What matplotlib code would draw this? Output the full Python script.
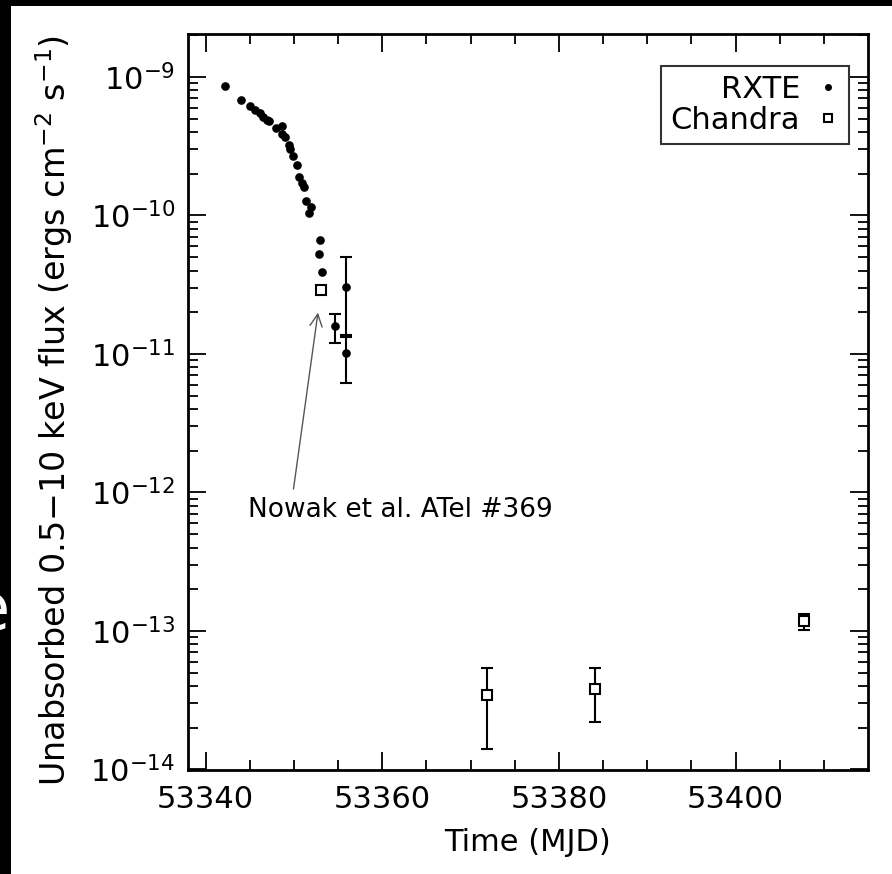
import numpy as np
import matplotlib
matplotlib.use("Agg")
from matplotlib import pyplot as plt
from matplotlib.patches import Rectangle
from matplotlib.lines import Line2D

plt.rcParams['font.family'] = ['DejaVu Sans']
plt.rcParams['mathtext.fontset'] = 'dejavusans'

# RXTE light curve (MJD, unabsorbed 0.5-10 keV flux)
rxte_mjd = [53342.2, 53344.0, 53345.0, 53345.6, 53346.1, 53346.5, 53346.9,
            53347.2, 53348.0, 53348.6, 53348.6, 53349.0, 53349.4, 53349.6,
            53349.9, 53350.3, 53350.6, 53350.9, 53351.1, 53351.4, 53351.9,
            53351.7, 53352.9, 53352.8, 53353.2]
rxte_flux = [8.6e-10, 6.8e-10, 6.2e-10, 5.8e-10, 5.5e-10, 5.1e-10, 4.9e-10,
             4.8e-10, 4.3e-10, 4.4e-10, 3.9e-10, 3.7e-10, 3.2e-10, 3.0e-10,
             2.7e-10, 2.3e-10, 1.9e-10, 1.7e-10, 1.6e-10, 1.28e-10, 1.15e-10,
             1.04e-10, 6.6e-11, 5.3e-11, 3.9e-11]

# late RXTE points with error bars
rxte_err_mjd = [53354.6, 53355.9, 53355.9]
rxte_err_flux = [1.58e-11, 3.06e-11, 1.02e-11]
rxte_err_lo = [1.20e-11, 1.33e-11, 6.2e-12]
rxte_err_hi = [1.94e-11, 5.0e-11, 1.38e-11]

# Chandra observations
chandra_mjd = [53353.1, 53371.9, 53384.1, 53407.7]
chandra_flux = [2.9e-11, 3.42e-14, 3.78e-14, 1.18e-13]
chandra_lo = [2.9e-11, 1.40e-14, 2.19e-14, 1.01e-13]
chandra_hi = [2.9e-11, 5.37e-14, 5.37e-14, 1.32e-13]

W, H = 892, 874
fig = plt.figure(figsize=(W / 100, H / 100), dpi=100, facecolor='black')
fig.patches.append(Rectangle((11 / W, 0), 1 - 11 / W, 1 - 6 / H,
                             transform=fig.transFigure, facecolor='white',
                             edgecolor='none', zorder=-10))
fig.text(10 / W, 1 - 612 / H, 'e', color='white', fontsize=47,
         ha='right', va='center')

ax = fig.add_axes([188 / W, 1 - 770 / H, 680 / W, 736 / H])
ax.set_yscale('log')
ax.set_xlim(53338, 53415)
ax.set_ylim(0.99e-14, 2.04e-9)

ax.plot(rxte_mjd, rxte_flux, 'o', color='black', ms=5.2, mec='black',
        zorder=3)
yerr = [np.array(rxte_err_flux) - np.array(rxte_err_lo),
        np.array(rxte_err_hi) - np.array(rxte_err_flux)]
ax.errorbar(rxte_err_mjd, rxte_err_flux, yerr=yerr, fmt='o', color='black',
            ms=5.2, capsize=4, elinewidth=1.5, capthick=1.5, zorder=3)

yerr = [np.array(chandra_flux) - np.array(chandra_lo),
        np.array(chandra_hi) - np.array(chandra_flux)]
ax.errorbar(chandra_mjd, chandra_flux, yerr=yerr, fmt='s', color='black',
            mfc='white', mec='black', mew=1.5, ms=7.5, capsize=4,
            elinewidth=1.5, capthick=1.5, zorder=3)

ax.annotate('', xy=(53352.76, 2.08e-11), xytext=(53349.9, 1.01e-12),
            arrowprops=dict(arrowstyle='->', color='#555555', lw=1.0,
                            mutation_scale=22))
ax.text(53344.8, 9.2e-13, 'Nowak et al. ATel #369', fontsize=19,
        ha='left', va='top')

ax.set_xticks([53340, 53360, 53380, 53400])
ax.set_xticks(np.arange(53340, 53415, 5), minor=True)
ax.tick_params(which='both', direction='in', top=True, right=True,
               labelsize=22, width=1.3)
ax.tick_params(which='major', length=13)
ax.tick_params(which='minor', length=7)
ax.tick_params(axis='y', pad=9)
ax.tick_params(axis='x', pad=11)
for s in ax.spines.values():
    s.set_linewidth(2)

ax.set_xlabel('Time (MJD)', fontsize=22, labelpad=10)
ax.set_ylabel(r'Unabsorbed 0.5$-$10 keV flux (ergs cm$^{-2}$ s$^{-1}$)',
              fontsize=24)
ax.yaxis.set_label_coords(-0.166, 0.489)

handles = [Line2D([], [], ls='none', marker='o', color='black', ms=4),
           Line2D([], [], ls='none', marker='s', mfc='white', mec='black',
                  mew=1.5, ms=6)]
leg = ax.legend(handles, ['RXTE', 'Chandra'], loc='upper right',
                bbox_to_anchor=(0.972, 0.9565), bbox_transform=ax.transAxes,
                borderaxespad=0, markerfirst=False, fontsize=22,
                fancybox=False, handlelength=0.8, handletextpad=0.5,
                labelspacing=0.05, borderpad=0.3, frameon=True, numpoints=1)
leg.get_frame().set_edgecolor('black')
leg.get_frame().set_linewidth(1.5)
for t in leg.get_texts():
    t.set_ha('right')

fig.savefig('out.png', dpi=100, facecolor=fig.get_facecolor())
